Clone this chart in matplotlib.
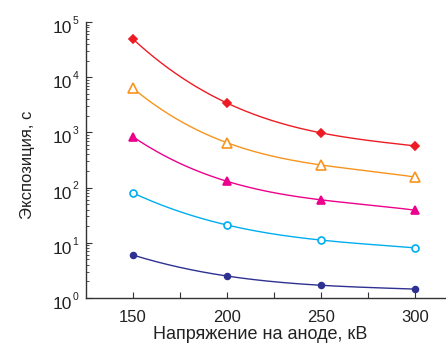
import numpy as np
import matplotlib
matplotlib.use("Agg")
import matplotlib.pyplot as plt
from matplotlib.ticker import FixedLocator, NullFormatter
import matplotlib.transforms as mtransforms

plt.rcParams['font.family'] = ['Liberation Sans', 'DejaVu Sans']

voltage = [150, 200, 250, 300]
s_red = [49000, 3400, 980, 570]
s_orange = [6300, 650, 257, 155]
s_magenta = [830, 130, 60, 39]
s_cyan = [80, 21, 11.2, 8.1]
s_navy = [6.0, 2.5, 1.7, 1.45]
y_exponents = [0, 1, 2, 3, 4, 5]

series = [
    (s_red, '#ed1c24', 'D', True, 4.5),
    (s_orange, '#f7941d', '^', False, 6.5),
    (s_magenta, '#ec008c', '^', True, 5.5),
    (s_cyan, '#00aeef', 'o', False, 5),
    (s_navy, '#2e3192', 'o', True, 4.2),
]

fig = plt.figure(figsize=(4.46, 3.44), dpi=100)
ax = fig.add_axes([86/446, 46/344, 360/446, 276/344])

x = np.array(voltage, dtype=float)
xs = np.linspace(150, 300, 200)
for vals, col, mk, filled, ms in series:
    ly = np.log10(np.array(vals))
    coef = np.polyfit(x, ly, 3)
    ax.plot(xs, 10 ** np.polyval(coef, xs), color=col, lw=1.0, zorder=2)
    ax.plot(x, vals, linestyle='none', marker=mk, markersize=ms,
            markerfacecolor=col if filled else 'white',
            markeredgecolor=col, markeredgewidth=1.2, zorder=3)

ax.set_yscale('log')
ax.set_ylim(1, 1e5)
ax.set_xlim(125, 125 + 360/1.88)
ax.xaxis.set_major_locator(FixedLocator([150, 200, 250, 300]))
ax.xaxis.set_minor_locator(FixedLocator([175, 225, 275]))
ax.set_yticks([10.0 ** e for e in y_exponents])
ax.yaxis.set_major_formatter(NullFormatter())
ax.yaxis.set_minor_formatter(NullFormatter())

trans = mtransforms.blended_transform_factory(ax.transAxes, ax.transData)
for e in y_exponents:
    v = 10.0 ** e
    ax.annotate('10', xy=(0, v), xycoords=trans, xytext=(-10.3, -4.7),
                textcoords='offset points', ha='right', va='center',
                fontsize=12.5, color='#222222', annotation_clip=False)
    ax.annotate(str(e), xy=(0, v), xycoords=trans, xytext=(-9.6, 0.8),
                textcoords='offset points', ha='left', va='center',
                fontsize=7.5, color='#222222', annotation_clip=False)

for s in ['top', 'right']:
    ax.spines[s].set_visible(False)
for s in ['left', 'bottom']:
    ax.spines[s].set_color('#333333')
    ax.spines[s].set_linewidth(1.0)

ax.tick_params(axis='x', which='both', direction='in', length=4, width=0.8,
               color='#333333', labelsize=12, pad=9, labelcolor='#222222')
ax.tick_params(axis='y', which='major', direction='in', length=4.5, width=0.8,
               color='#333333')
ax.tick_params(axis='y', which='minor', direction='in', length=2.5, width=0.6,
               color='#333333')

ax.set_xlabel('Напряжение на аноде, кВ', fontsize=13, color='#222222')
ax.xaxis.set_label_coords(0.485, -0.1)
ax.set_ylabel('Экспозиция, с', fontsize=12, color='#222222')
ax.yaxis.set_label_coords(-0.1417, 0.484)

fig.savefig('out.png', dpi=100)
